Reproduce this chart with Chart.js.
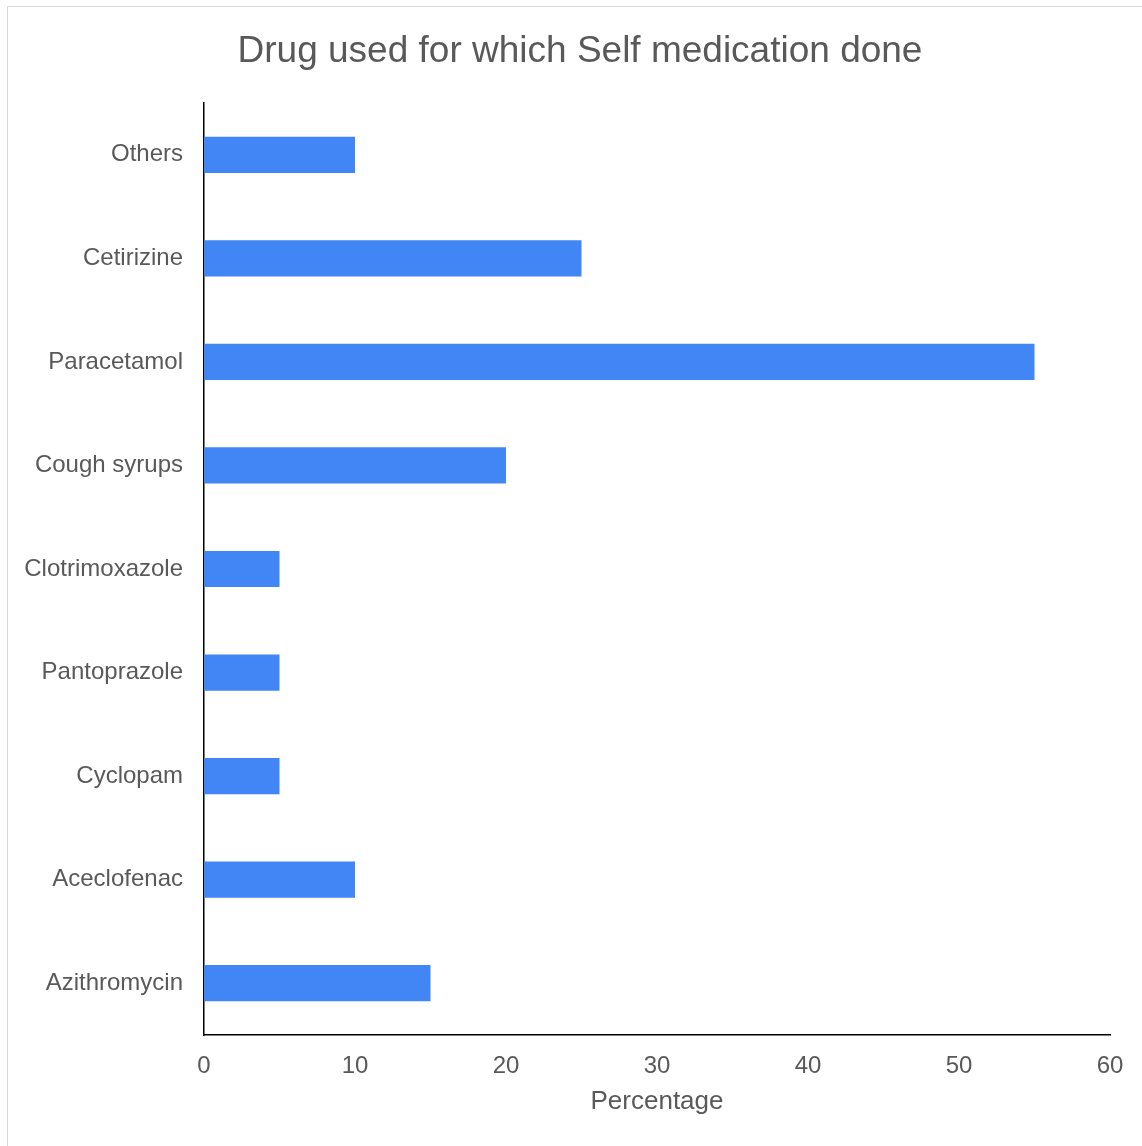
<!DOCTYPE html>
<html>
<head>
<meta charset="utf-8">
<script src="https://cdn.jsdelivr.net/npm/chart.js@4"></script>
<style>
    html, body { margin: 0; padding: 0; background: #fff; }
    #wrap { position: relative; width: 1142px; height: 1146px; overflow: hidden; }
    #frame { position: absolute; left: 7px; top: 6px; width: 1150px; height: 1150px; border: 1px solid #d9d9d9; box-sizing: border-box; }
    #chart { position: absolute; left: 0; top: 0; }
</style>
</head>
<body>
<div id="wrap">
    <div id="frame"></div>
    <canvas id="chart" width="1142" height="1146"></canvas>
</div>
<script>
// Dados do gráfico
const drugs = ['Others', 'Cetirizine', 'Paracetamol', 'Cough syrups', 'Clotrimoxazole', 'Pantoprazole', 'Cyclopam', 'Aceclofenac', 'Azithromycin'];
const percentages = [10, 25, 55, 20, 5, 5, 5, 10, 15];
const xTicks = [0, 10, 20, 30, 40, 50, 60];

const FONT = '"Liberation Sans", Arial, sans-serif';
const TEXT_COLOR = '#595959';

document.addEventListener('DOMContentLoaded', function() {
    initializeChart();
});

function initializeChart() {
    const ctx = document.getElementById('chart');

    new Chart(ctx, {
        type: 'bar',
        data: {
            labels: drugs,
            datasets: [{
                data: percentages,
                backgroundColor: '#4285f4',
                borderWidth: 0,
                categoryPercentage: 1,
                barPercentage: 0.35
            }]
        },
        options: {
            indexAxis: 'y',
            responsive: false,
            animation: false,
            layout: {
                padding: { top: 30, right: 0, bottom: 0, left: 18 }
            },
            plugins: {
                legend: { display: false },
                tooltip: { enabled: false },
                title: {
                    display: true,
                    text: 'Drug used for which Self medication done',
                    color: TEXT_COLOR,
                    font: { family: FONT, size: 37, weight: 'normal' },
                    padding: { top: 0, bottom: 28.6 }
                }
            },
            scales: {
                x: {
                    min: 0,
                    max: 60,
                    afterBuildTicks: function(scale) {
                        scale.ticks = xTicks.map(v => ({ value: v }));
                    },
                    afterFit: function(scale) {
                        scale.height = 111;
                    },
                    grid: { display: false, drawTicks: false },
                    border: { display: true, color: '#000', width: 1.5 },
                    ticks: {
                        color: TEXT_COLOR,
                        padding: 17,
                        font: { family: FONT, size: 24 }
                    },
                    title: {
                        display: true,
                        text: 'Percentage',
                        color: TEXT_COLOR,
                        font: { family: FONT, size: 26 },
                        padding: { top: 0, bottom: 29 }
                    }
                },
                y: {
                    afterFit: function(scale) {
                        scale.width = 186;
                    },
                    grid: { display: false, drawTicks: false },
                    border: { display: true, color: '#000', width: 1.5 },
                    ticks: {
                        color: TEXT_COLOR,
                        padding: 21,
                        font: { family: FONT, size: 24 }
                    }
                },
                // espaço vazio à direita da área do gráfico
                yRight: {
                    type: 'category',
                    position: 'right',
                    afterFit: function(scale) {
                        scale.width = 32;
                    },
                    grid: { display: false, drawTicks: false },
                    border: { display: false },
                    ticks: { display: false }
                }
            }
        }
    });
}
</script>
</body>
</html>
